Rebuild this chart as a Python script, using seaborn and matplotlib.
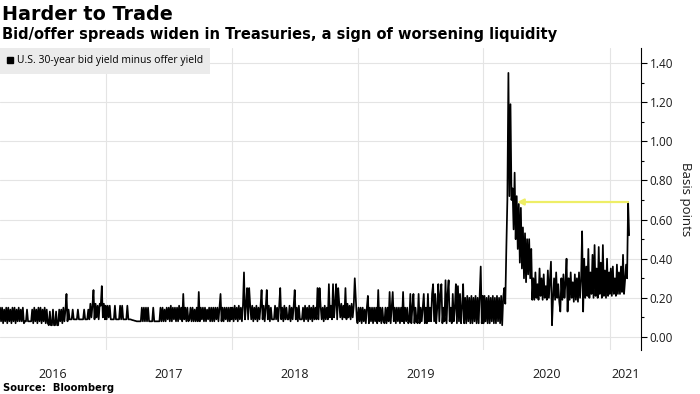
import pandas as pd
import seaborn as sns
import matplotlib.pyplot as plt
from matplotlib.lines import Line2D
from matplotlib.ticker import MultipleLocator, FormatStrFormatter

# U.S. 30-year bid yield minus offer yield (basis points)
spread_2016 = [
    0.15, 0.08, 0.15, 0.07, 0.14, 0.08, 0.15, 0.07, 0.15, 0.08,
    0.14, 0.07, 0.15, 0.08, 0.15, 0.07, 0.14, 0.08, 0.15, 0.08,
    0.14, 0.08, 0.15, 0.07, 0.08, 0.08, 0.14, 0.08, 0.08, 0.08,
    0.08, 0.14, 0.07, 0.15, 0.08, 0.14, 0.07, 0.15, 0.08, 0.15,
    0.07, 0.14, 0.08, 0.15, 0.07, 0.14, 0.07, 0.06, 0.13, 0.06,
    0.06, 0.14, 0.06, 0.06, 0.13, 0.06, 0.06, 0.14, 0.08, 0.14,
    0.07, 0.15, 0.08, 0.14, 0.22, 0.08, 0.14, 0.09, 0.09, 0.09,
    0.14, 0.09, 0.09, 0.09, 0.09, 0.14, 0.09, 0.09, 0.09, 0.09,
    0.09, 0.14, 0.09, 0.09, 0.09, 0.14, 0.09, 0.17, 0.10, 0.16,
    0.24, 0.09, 0.17, 0.10, 0.16, 0.09, 0.17, 0.16, 0.26, 0.10,
    0.17, 0.09,
]
spread_2017 = [
    0.16, 0.09, 0.16, 0.10, 0.16, 0.09, 0.09, 0.09, 0.09, 0.16,
    0.09, 0.09, 0.09, 0.09, 0.16, 0.09, 0.16, 0.09, 0.09, 0.09,
    0.09, 0.16, 0.09, 0.09, 0.09, 0.088, 0.086, 0.085, 0.083, 0.082,
    0.08, 0.08, 0.08, 0.08, 0.08, 0.15, 0.08, 0.15, 0.08, 0.15,
    0.08, 0.15, 0.08, 0.08, 0.08, 0.08, 0.15, 0.08, 0.08, 0.08,
    0.08, 0.08, 0.08, 0.15, 0.08, 0.15, 0.08, 0.14, 0.08, 0.15,
    0.09, 0.15, 0.08, 0.16, 0.08, 0.15, 0.09, 0.15, 0.08, 0.15,
    0.08, 0.16, 0.09, 0.15, 0.08, 0.22, 0.09, 0.15, 0.08, 0.15,
    0.08, 0.09, 0.15, 0.08, 0.15, 0.08, 0.14, 0.08, 0.15, 0.08,
    0.23, 0.08, 0.15, 0.09, 0.15, 0.08, 0.15, 0.08, 0.14, 0.09,
    0.15, 0.08, 0.15, 0.08, 0.15, 0.08, 0.15, 0.09, 0.15, 0.08,
    0.15, 0.22, 0.08, 0.15, 0.08, 0.15, 0.09, 0.15, 0.08, 0.15,
    0.08, 0.15,
]
spread_2018 = [
    0.09, 0.15, 0.08, 0.16, 0.09, 0.15, 0.08, 0.16, 0.09, 0.15,
    0.08, 0.16, 0.33, 0.09, 0.16, 0.25, 0.09, 0.25, 0.16, 0.09,
    0.16, 0.08, 0.15, 0.09, 0.16, 0.08, 0.15, 0.09, 0.16, 0.24,
    0.09, 0.16, 0.08, 0.15, 0.24, 0.09, 0.16, 0.08, 0.15, 0.09,
    0.09, 0.09, 0.16, 0.09, 0.15, 0.08, 0.16, 0.25, 0.09, 0.15,
    0.08, 0.16, 0.09, 0.15, 0.09, 0.09, 0.16, 0.08, 0.15, 0.09,
    0.16, 0.24, 0.09, 0.15, 0.08, 0.16, 0.09, 0.09, 0.09, 0.15,
    0.08, 0.16, 0.09, 0.15, 0.08, 0.16, 0.09, 0.15, 0.08, 0.16,
    0.09, 0.15, 0.09, 0.25, 0.09, 0.25, 0.16, 0.09, 0.15, 0.08,
    0.16, 0.09, 0.15, 0.09, 0.27, 0.10, 0.16, 0.09, 0.27, 0.10,
    0.17, 0.27, 0.09, 0.25, 0.17, 0.10, 0.17, 0.09, 0.16, 0.10,
    0.25, 0.09, 0.17, 0.10, 0.16, 0.09, 0.17, 0.10, 0.16, 0.30,
    0.20, 0.09,
]
spread_2019 = [
    0.07, 0.15, 0.08, 0.15, 0.07, 0.15, 0.08, 0.14, 0.07, 0.15,
    0.21, 0.07, 0.15, 0.08, 0.15, 0.07, 0.15, 0.08, 0.15, 0.07,
    0.24, 0.08, 0.15, 0.07, 0.15, 0.08, 0.07, 0.15, 0.07, 0.15,
    0.08, 0.23, 0.07, 0.15, 0.23, 0.08, 0.15, 0.07, 0.15, 0.08,
    0.15, 0.07, 0.15, 0.08, 0.23, 0.07, 0.15, 0.08, 0.15, 0.07,
    0.08, 0.22, 0.07, 0.15, 0.22, 0.07, 0.15, 0.08, 0.07, 0.22,
    0.07, 0.15, 0.08, 0.15, 0.22, 0.07, 0.15, 0.07, 0.22, 0.08,
    0.15, 0.08, 0.22, 0.27, 0.08, 0.22, 0.07, 0.15, 0.27, 0.08,
    0.22, 0.27, 0.07, 0.15, 0.08, 0.29, 0.07, 0.22, 0.29, 0.08,
    0.15, 0.07, 0.22, 0.08, 0.15, 0.27, 0.07, 0.26, 0.08, 0.22,
    0.07, 0.15, 0.27, 0.07, 0.20, 0.07, 0.21, 0.08, 0.20, 0.07,
    0.21, 0.07, 0.20, 0.08, 0.21, 0.07, 0.20, 0.07, 0.21, 0.36,
    0.07, 0.21,
]
spread_2020 = [
    0.07, 0.21, 0.08, 0.20, 0.07, 0.21, 0.07, 0.20, 0.08, 0.21,
    0.07, 0.20, 0.07, 0.21, 0.08, 0.20, 0.07, 0.21, 0.06, 0.20,
    0.25, 0.17, 0.45, 0.70, 1.35, 0.72, 1.19, 0.70, 0.76, 0.55,
    0.84, 0.50, 0.72, 0.45, 0.68, 0.38, 0.66, 0.35, 0.56, 0.30,
    0.53, 0.28, 0.50, 0.32, 0.50, 0.30, 0.45, 0.19, 0.30, 0.19,
    0.33, 0.20, 0.27, 0.19, 0.35, 0.21, 0.30, 0.19, 0.32, 0.20,
    0.26, 0.19, 0.34, 0.20, 0.29, 0.385, 0.06, 0.20, 0.30, 0.19,
    0.33, 0.20, 0.27, 0.18, 0.13, 0.30, 0.19, 0.32, 0.20, 0.28,
    0.40, 0.13, 0.30, 0.19, 0.33, 0.20, 0.28, 0.18, 0.32, 0.19,
    0.30, 0.18, 0.33, 0.20, 0.29, 0.54, 0.13, 0.40, 0.20, 0.36,
    0.21, 0.45, 0.20, 0.33, 0.22, 0.42, 0.20, 0.47, 0.21, 0.35,
    0.20, 0.46, 0.22, 0.38, 0.20, 0.47, 0.21, 0.34, 0.20, 0.40,
    0.21, 0.33,
]
spread_2021 = [
    0.22, 0.35, 0.21, 0.36, 0.22, 0.30, 0.21, 0.37, 0.22, 0.33,
    0.22, 0.36, 0.23, 0.42, 0.22, 0.29, 0.37, 0.30, 0.69, 0.52,
]

segments = [
    ("2016-03-01", "2016-12-30", spread_2016),
    ("2017-01-01", "2017-12-30", spread_2017),
    ("2018-01-01", "2018-12-30", spread_2018),
    ("2019-01-01", "2019-12-30", spread_2019),
    ("2020-01-01", "2020-12-30", spread_2020),
    ("2021-01-01", "2021-02-26", spread_2021),
]
years = [2016, 2017, 2018, 2019, 2020, 2021]
arrow_head_date = pd.Timestamp("2020-04-08")

frames = []
for start, end, vals in segments:
    frames.append(pd.DataFrame({
        "date": pd.date_range(start, end, periods=len(vals)),
        "spread": vals,
    }))
df = pd.concat(frames, ignore_index=True)

sns.set_style("white")
plt.rcParams["font.family"] = ["Open Sans", "DejaVu Sans"]

fig = plt.figure(figsize=(7, 3.94), dpi=100)
ax = fig.add_axes([0.0, 0.112, 0.916, 0.766])

sns.lineplot(data=df, x="date", y="spread", color="black", linewidth=1.25,
             legend=False, ax=ax)

# yellow arrow from the latest peak back to the same level in 2020
peak_idx = df["spread"].iloc[-5:].idxmax()
peak_date = df.loc[peak_idx, "date"]
peak_val = df.loc[peak_idx, "spread"]
ax.annotate("", xy=(arrow_head_date, peak_val), xytext=(peak_date, peak_val),
            arrowprops=dict(arrowstyle="-|>", color="#eeee66", lw=1.6,
                            mutation_scale=9, shrinkA=0, shrinkB=0))

x0 = pd.Timestamp("2016-03-01")
x1 = pd.Timestamp("2021-04-02")
ax.set_xlim(x0, x1)
ax.set_ylim(-0.066, 1.477)

# year boundaries as gridlines, year names centred in the visible part
bounds = [pd.Timestamp(f"{y}-01-01") for y in years[1:]]
ax.set_xticks(bounds)
ax.set_xticklabels([])
mids = []
for y in years:
    a = max(pd.Timestamp(f"{y}-01-01"), x0)
    b = min(pd.Timestamp(f"{y + 1}-01-01"), x1)
    mids.append(a + (b - a) / 2)
ax.set_xticks(mids, minor=True)
ax.set_xticklabels([str(y) for y in years], minor=True)
ax.tick_params(axis="x", which="both", length=0)
ax.tick_params(axis="x", which="minor", labelsize=9, pad=13, labelcolor="#1a1a1a")

ax.yaxis.tick_right()
ax.yaxis.set_label_position("right")
ax.yaxis.set_major_locator(MultipleLocator(0.2))
ax.yaxis.set_minor_locator(MultipleLocator(0.1))
ax.yaxis.set_major_formatter(FormatStrFormatter("%.2f"))
ax.tick_params(axis="y", which="major", direction="out", length=4, width=0.8,
               color="black", labelsize=8.5, pad=2, labelcolor="#1a1a1a")
ax.tick_params(axis="y", which="minor", direction="out", length=2.5, width=0.8,
               color="black")
ax.set_ylabel("Basis points", rotation=270, fontsize=9.5, labelpad=14,
              color="#1a1a1a")
ax.set_xlabel("")

ax.grid(True, which="major", color="#e4e4e4", linewidth=0.8)
for side in ["top", "left", "bottom"]:
    ax.spines[side].set_visible(False)
ax.spines["right"].set_color("black")
ax.spines["right"].set_linewidth(0.8)

handle = Line2D([], [], marker="s", color="black", linestyle="none",
                markersize=5)
leg = ax.legend([handle], ["U.S. 30-year bid yield minus offer yield"],
                loc="upper left", bbox_to_anchor=(0, 1), borderaxespad=0,
                frameon=True, fancybox=False, facecolor="#ebebeb",
                edgecolor="none", framealpha=1, fontsize=7.5,
                handlelength=0.6, handletextpad=0.3, borderpad=0.7)
for t in leg.get_texts():
    t.set_color("black")

fig.text(0.003, 0.949, "Harder to Trade", fontsize=13.8, fontweight="bold",
         family="DejaVu Sans", va="baseline", color="black")
fig.text(0.003, 0.901,
         "Bid/offer spreads widen in Treasuries, a sign of worsening liquidity",
         fontsize=10.5, fontweight="bold", family="DejaVu Sans", va="baseline",
         color="black")
fig.text(0.004, 0.007, "Source:  Bloomberg", fontsize=7.2, fontweight="bold",
         family="DejaVu Sans", va="baseline", color="black")

fig.savefig("out.png", dpi=100)
